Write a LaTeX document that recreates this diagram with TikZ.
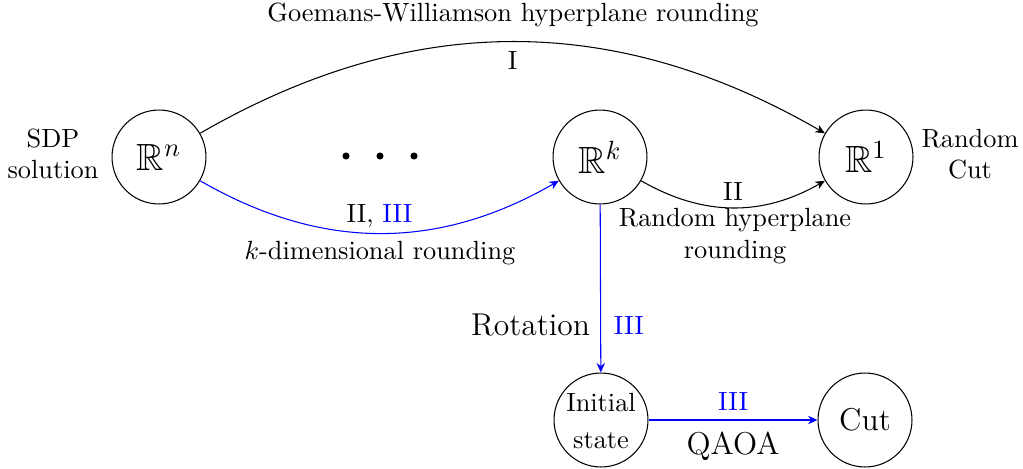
\documentclass[tikz,border=0pt]{standalone}
\usepackage{amssymb}
\usetikzlibrary{arrows.meta}
\begin{document}
\begin{tikzpicture}[x=0.38pt,y=-0.38pt,
  st/.style={circle,draw,minimum size=35.7pt,inner sep=0pt},
  arr/.style={-{Stealth[length=3.6pt,width=3.2pt]}},
  blu/.style={arr,blue},
  lbl/.style={align=center,inner sep=0pt}]
\useasboundingbox (0,0) rectangle (1023,468);
\node[st] (n) at (159,157) {\Large $\mathbb{R}^n$};
\node[st] (k) at (600,157) {\Large $\mathbb{R}^k$};
\node[st] (one) at (866,157) {\Large $\mathbb{R}^1$};
\node[st] (init) at (601,420) {};
\node[lbl] (initt) at (601,421) {Initial\\[2pt] state};
\node[st] (cut) at (865,420) {\large Cut};
\node[lbl] (sdp) at (53,154) {SDP\\solution};
\node[lbl] (rc) at (970,154) {Random\\Cut};
\node[lbl] (gw) at (513,15) {Goemans-Williamson hyperplane rounding};
\foreach \x/\nm in {346/d1,380/d2,414/d3} \fill (\x,156) circle (1.35pt);
\draw[arr] (n) to[out=30,in=150] node[pos=0.5,below=0pt] {I} (one);
\draw[blu] (n) to[out=-30,in=210] node[pos=0.5,above=-1.5pt,text=black] {II, \textcolor{blue}{III}} (k);
\node[lbl] (kd) at (380,253) {$k$-dimensional rounding};
\draw[arr] (k) to[out=-30,in=210] node[pos=0.5,above=-1pt] {II} (one);
\node[lbl] (rh) at (735,236) {Random hyperplane\\rounding};
\draw[blu] (k) -- node[pos=0.72,left=0.5pt,text=black] {\large Rotation} node[pos=0.72,right=1.5pt] {III} (init);
\draw[blu] (init) -- node[above=0pt] {III} node[below=1pt,text=black] {\large QAOA} (cut);
\end{tikzpicture}
\end{document}
